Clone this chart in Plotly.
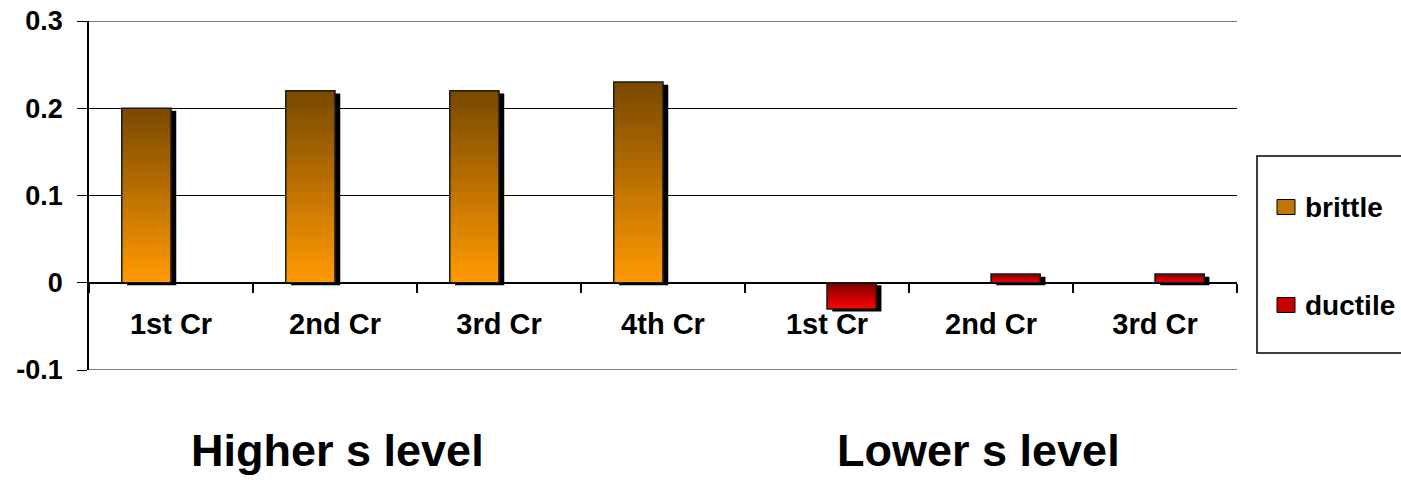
import plotly.graph_objects as go

# ---------------- data ----------------
categories = ["1st Cr", "2nd Cr", "3rd Cr", "4th Cr", "1st Cr", "2nd Cr", "3rd Cr"]
brittle = [0.20, 0.22, 0.22, 0.23, None, None, None]
ductile = [None, None, None, None, -0.03, 0.01, 0.01]
group_labels = ["Higher s level", "Lower s level"]
y_ticks = [-0.1, 0.0, 0.1, 0.2, 0.3]
y_ticktext = ["-0.1", "0", "0.1", "0.2", "0.3"]

FONT = "Liberation Sans, Arial, sans-serif"
x_idx = list(range(len(categories)))

series = [
    dict(name="brittle", values=brittle, offset=-0.3,
         top=(122, 74, 0), bottom=(255, 153, 0)),
    dict(name="ductile", values=ductile, offset=0.0,
         top=(128, 0, 0), bottom=(255, 0, 0)),
]
BAR_W = 0.3
N = 40
SHADOW_DX = 0.032
SHADOW_DY = 0.003

fig = go.Figure()


def lerp(c1, c2, t):
    return "rgb(%d,%d,%d)" % tuple(round(a + (b - a) * t) for a, b in zip(c1, c2))


for s in series:
    vals = s["values"]
    tops = [None if v is None else max(v, 0) for v in vals]
    bots = [None if v is None else min(v, 0) for v in vals]
    hs = [None if v is None else t - b for v, t, b in zip(vals, tops, bots)]

    # drop shadow
    fig.add_trace(go.Bar(
        x=x_idx, y=hs,
        base=[None if b is None else b - SHADOW_DY for b in bots],
        offset=s["offset"] + SHADOW_DX, width=BAR_W,
        marker=dict(color="black", line=dict(width=0)),
        showlegend=False, hoverinfo="skip"))

    # vertical gradient (bottom light -> top dark)
    for k in range(N):
        t = k / (N - 1)
        ys, bs = [], []
        for h, b, tp in zip(hs, bots, tops):
            if h is None:
                ys.append(None)
                bs.append(None)
            else:
                base = b + h * k / N
                ys.append(min(h / N * 1.8, tp - base))
                bs.append(base)
        fig.add_trace(go.Bar(
            x=x_idx, y=ys, base=bs,
            offset=s["offset"], width=BAR_W,
            marker=dict(color=lerp(s["bottom"], s["top"], t), line=dict(width=0)),
            showlegend=False, hoverinfo="skip"))

    # outline + hover
    fig.add_trace(go.Bar(
        x=x_idx, y=hs, base=bots,
        offset=s["offset"], width=BAR_W,
        marker=dict(color="rgba(0,0,0,0)", line=dict(color="#1a1a1a", width=1.5)),
        name=s["name"], customdata=vals,
        hovertemplate="%{customdata}<extra>" + s["name"] + "</extra>",
        showlegend=False))

# ---------------- manual legend ----------------
PW = 1148.0
PH = 349.0


def px_x(p):
    return (p - 89) / PW


def px_y(p):
    return (370 - p) / PH


shapes = []
# gridlines at the range ends (plotly omits them)
for yv in (y_ticks[0], y_ticks[-1]):
    shapes.append(dict(type="line", xref="paper", yref="y", x0=0, x1=1, y0=yv, y1=yv,
                       line=dict(color="black", width=1.2), layer="below"))

shapes.append(dict(type="rect", xref="paper", yref="paper",
                   x0=px_x(1257), x1=px_x(1420), y0=px_y(353), y1=px_y(156),
                   line=dict(color="black", width=1.5), fillcolor="white", layer="above"))
annotations = []
legend_rows = [207, 305]
for s, cy in zip(series, legend_rows):
    shapes.append(dict(type="rect", xref="paper", yref="paper",
                       x0=px_x(1277), x1=px_x(1295), y0=px_y(cy + 7.5), y1=px_y(cy - 7.5),
                       line=dict(color="black", width=1),
                       fillcolor=lerp(s["bottom"], s["top"], 0.45), layer="above"))
    annotations.append(dict(xref="paper", yref="paper", x=px_x(1303), y=px_y(cy),
                            xanchor="left", yanchor="middle", showarrow=False,
                            text=s["name"],
                            font=dict(family=FONT, size=28, color="black", weight="bold")))

group_x = [337, 978]
for lbl, gx in zip(group_labels, group_x):
    annotations.append(dict(xref="paper", yref="paper", x=px_x(gx), y=px_y(450),
                            xanchor="center", yanchor="middle", showarrow=False,
                            text=lbl,
                            font=dict(family=FONT, size=45, color="black", weight="bold")))

fig.update_layout(
    width=1401, height=480,
    margin=dict(l=89, r=164, t=21, b=110, pad=0, autoexpand=False),
    paper_bgcolor="white", plot_bgcolor="white",
    barmode="overlay",
    showlegend=False,
    font=dict(family=FONT, color="black", weight="bold"),
    shapes=shapes,
    annotations=annotations,
    xaxis=dict(
        range=[-0.5, len(categories) - 0.5],
        tickmode="array", tickvals=x_idx, ticktext=categories,
        ticks="", showgrid=False, zeroline=False,
        showline=True, linecolor="black", linewidth=1.2,
        anchor="free", position=(0 - y_ticks[0]) / (y_ticks[-1] - y_ticks[0]),
        tickfont=dict(family=FONT, size=29, color="black", weight="bold"),
        ticklabelstandoff=15,
        minor=dict(tickmode="array",
                   tickvals=[i - 0.5 for i in range(len(categories) + 1)],
                   ticks="outside", ticklen=9, tickcolor="black", tickwidth=1.5,
                   showgrid=False),
        fixedrange=True,
    ),
    yaxis=dict(
        range=[y_ticks[0], y_ticks[-1]],
        tickmode="array", tickvals=y_ticks, ticktext=y_ticktext,
        ticks="outside", ticklen=10, tickcolor="black", tickwidth=1.2,
        showgrid=True, gridcolor="black", gridwidth=1.2,
        zeroline=False, showline=True, linecolor="black", linewidth=1.5,
        tickfont=dict(family=FONT, size=27, color="black", weight="bold"),
        ticklabelstandoff=9,
        fixedrange=True,
    ),
)

fig.write_html("out.html", config={"displayModeBar": False})
